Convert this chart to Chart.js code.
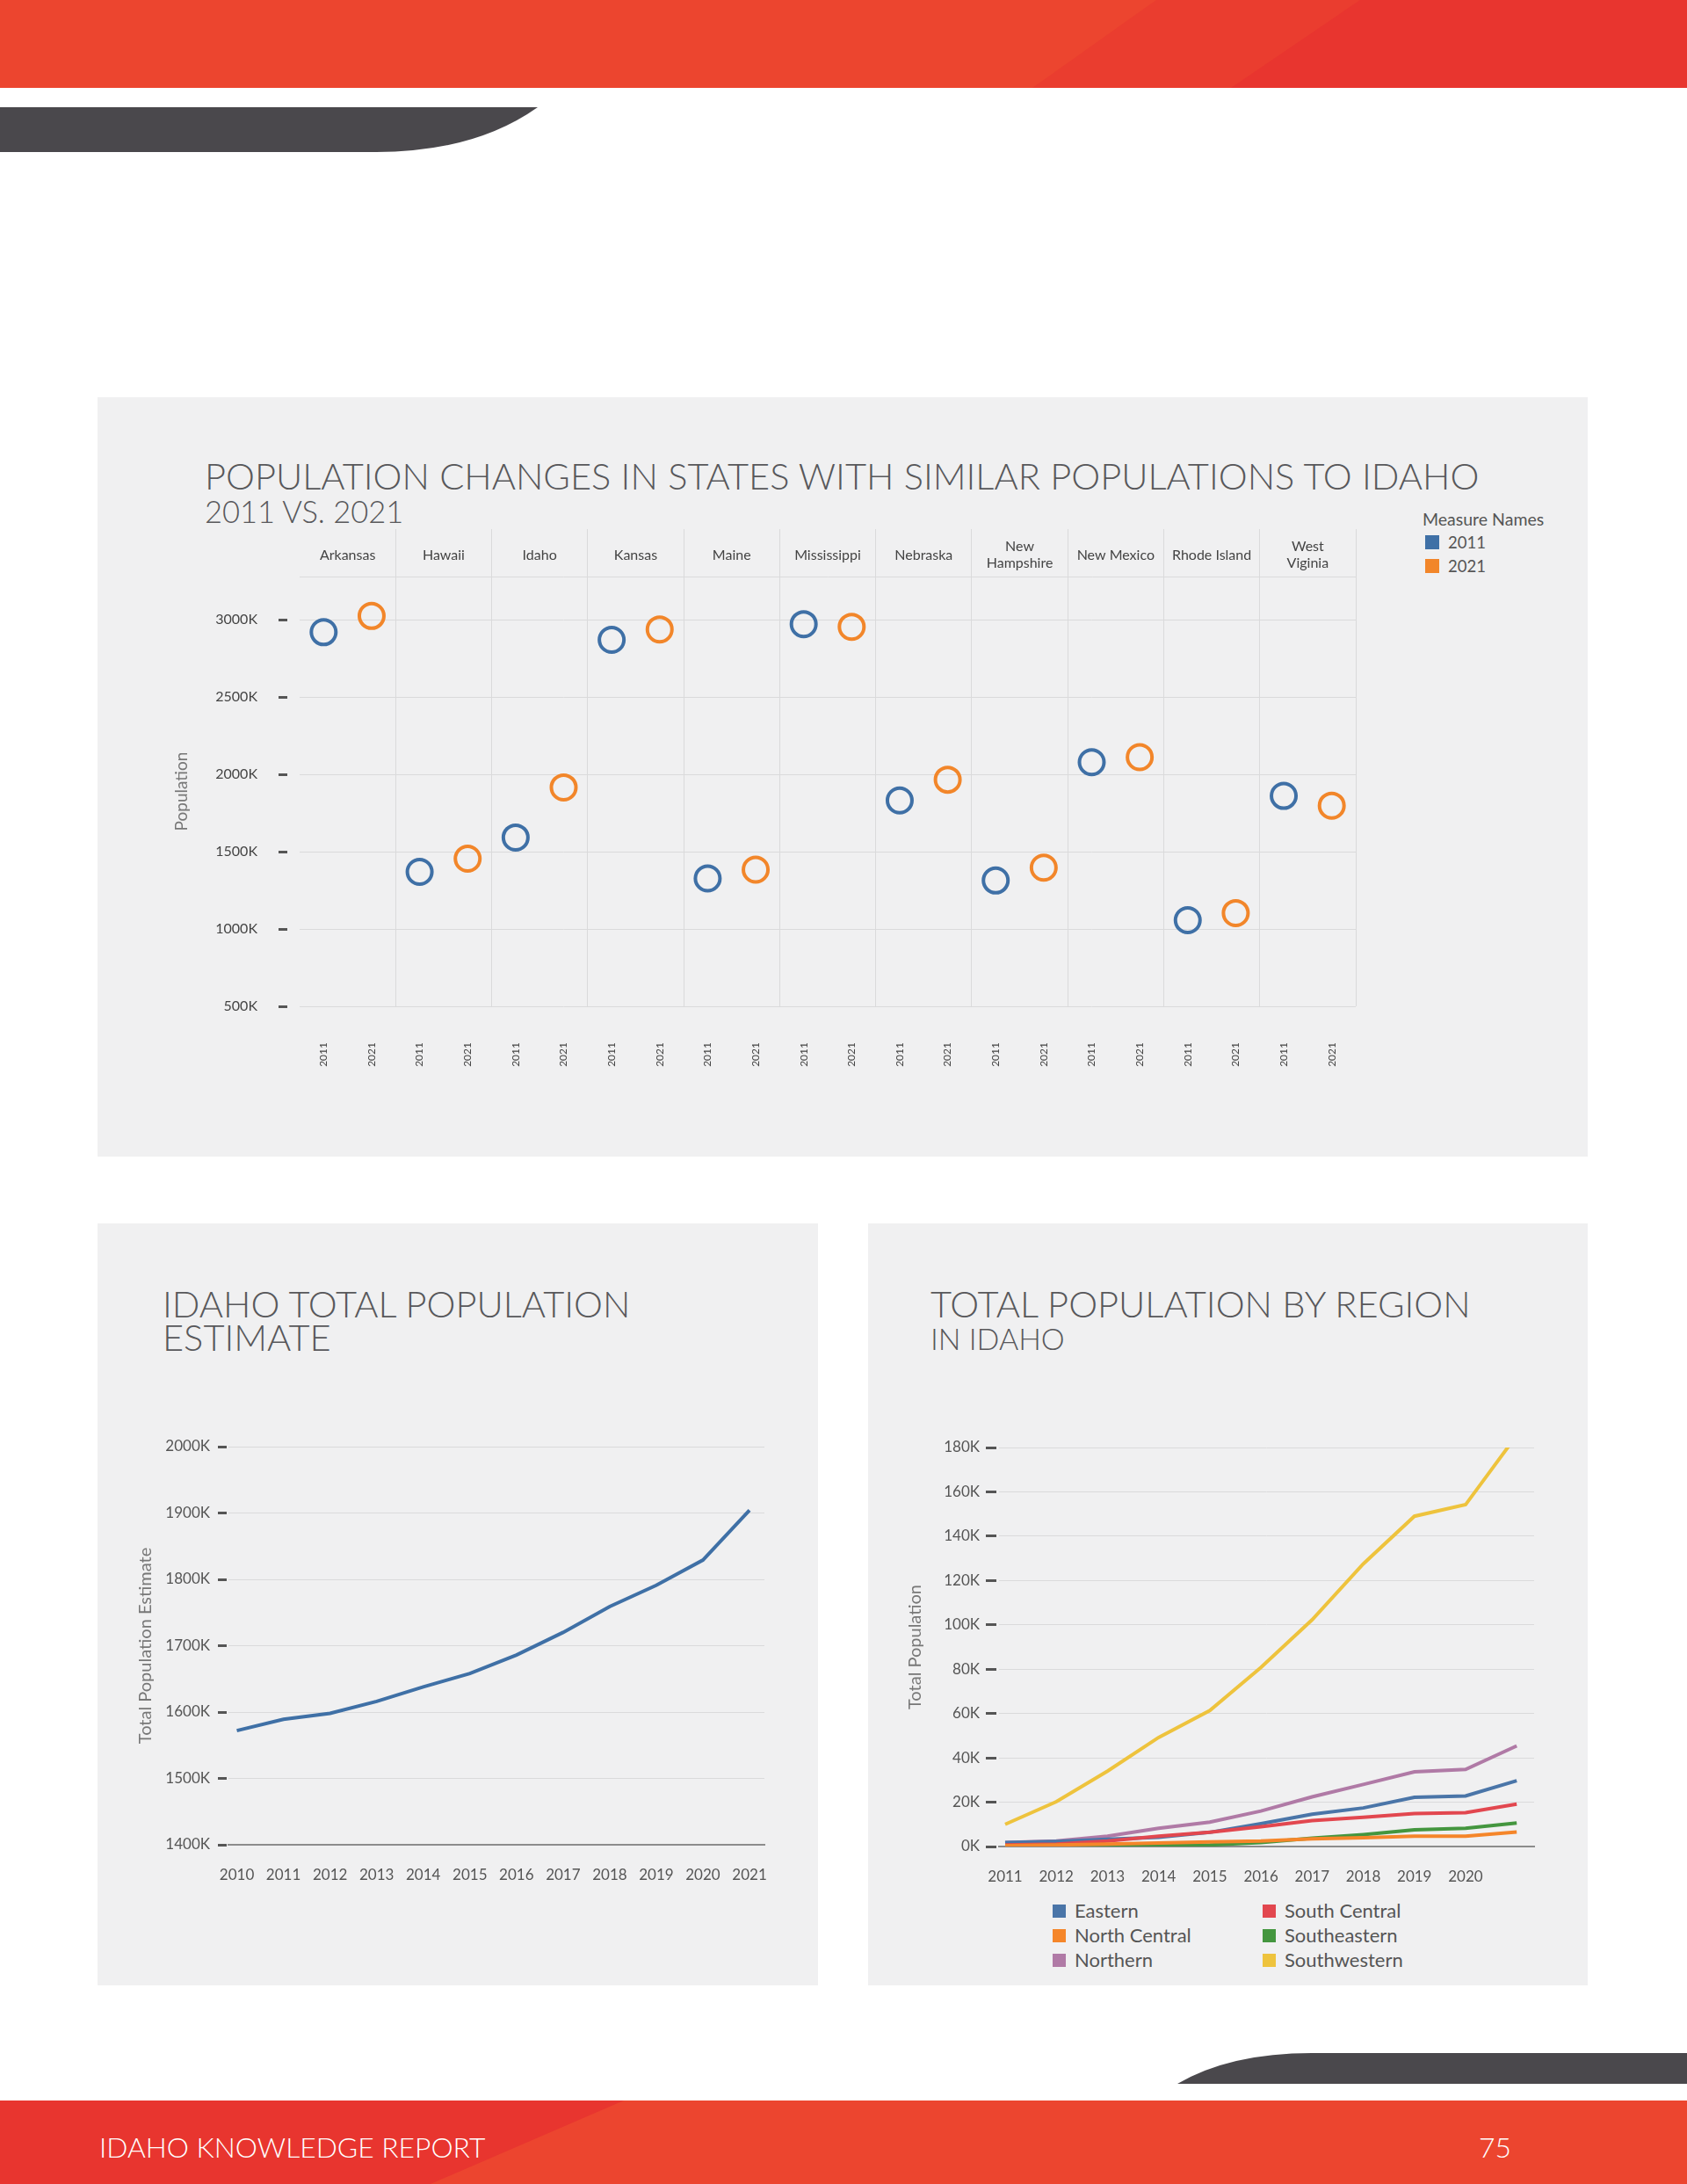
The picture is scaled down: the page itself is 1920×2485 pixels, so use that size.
<!DOCTYPE html>
<html>
<head>
<meta charset="utf-8">
<script src="https://cdn.jsdelivr.net/npm/chart.js@4.4.1/dist/chart.umd.min.js"></script>
<style>
body { margin: 0; width: 1920px; height: 2485px; position: relative; background: #fff; overflow: hidden; font-family: Lato, 'Open Sans', sans-serif; }
.panel { position: absolute; background: #f0f0f1; }
.title { position: absolute; color: #58585b; font-weight: 300; white-space: nowrap; line-height: 1; }
.box { position: absolute; }
.legend { position: absolute; color: #555; }
.legend .sw { position: absolute; width: 16px; height: 16px; }
.legend .lb { position: absolute; white-space: nowrap; line-height: 1; }
</style>
</head>
<body>

<svg style="position:absolute;left:0;top:0" width="1920" height="2485">
  <rect x="0" y="0" width="1920" height="100" fill="#ec452f"/>
  <polygon points="1316,0 1920,0 1920,100 1175,100" fill="#ea3d2f"/>
  <polygon points="1548,0 1920,0 1920,100 1401,100" fill="#e8352f"/>
  <path d="M0 122 H612 Q540 173 428 173 H0 Z" fill="#4a484c"/>
  <path d="M1340 2371 Q1400 2336 1493 2336 H1920 V2371 Z" fill="#4a484c"/>
  <rect x="0" y="2390" width="1920" height="95" fill="#ec452f"/>
  <polygon points="0,2390 710,2390 490,2485 0,2485" fill="#e8352f"/>
</svg>

<div class="panel" style="left:111px;top:452px;width:1696px;height:864px"></div>
<div class="panel" style="left:111px;top:1392px;width:820px;height:867px"></div>
<div class="panel" style="left:988px;top:1392px;width:819px;height:867px"></div>

<div class="title" style="left:233px;top:521px;font-size:41.6px">POPULATION CHANGES IN STATES WITH SIMILAR POPULATIONS TO IDAHO</div>
<div class="title" style="left:233px;top:565px;font-size:34.5px">2011 VS. 2021</div>

<div class="title" style="left:185px;top:1464px;font-size:41.6px;line-height:38px">IDAHO TOTAL POPULATION<br>ESTIMATE</div>
<div class="title" style="left:1059px;top:1464px;font-size:41.6px;line-height:38px">TOTAL POPULATION BY REGION</div>
<div class="title" style="left:1059px;top:1506px;font-size:34px">IN IDAHO</div>

<div class="title" style="left:113px;top:2428px;font-size:31.8px;color:#fff">IDAHO KNOWLEDGE REPORT</div>
<div class="title" style="left:1683px;top:2428px;font-size:31.8px;color:#fff">75</div>

<div class="box" style="left:111px;top:602px;width:1460px;height:620px"><canvas id="states"></canvas></div>
<div class="box" style="left:111px;top:1620px;width:820px;height:540px"><canvas id="idaho"></canvas></div>
<div class="box" style="left:988px;top:1620px;width:819px;height:540px"><canvas id="region"></canvas></div>

<div class="legend" id="legendStates" style="left:1619px;top:581px"></div>
<div class="legend" id="legendRegion" style="left:1198px;top:2160px"></div>

<script>
// states with a population close to Idaho's, in thousands
const states = ['Arkansas', 'Hawaii', 'Idaho', 'Kansas', 'Maine', 'Mississippi', 'Nebraska',
  ['New', 'Hampshire'], 'New Mexico', 'Rhode Island', ['West', 'Viginia']];
const years = ['2011', '2021'];
const pop2011 = [2920, 1370, 1592, 2871, 1327, 2972, 1832, 1314, 2079, 1057, 1861];
const pop2021 = [3025, 1455, 1916, 2938, 1384, 2955, 1966, 1397, 2112, 1103, 1798];
const stateTicks = [500, 1000, 1500, 2000, 2500, 3000];

// Idaho total population estimate, thousands
const idahoYears = [2010, 2011, 2012, 2013, 2014, 2015, 2016, 2017, 2018, 2019, 2020, 2021];
const idahoTotal = [1572, 1589, 1598, 1616, 1638, 1658, 1686, 1720, 1759, 1791, 1829, 1904];

// population by region, thousands
const regionYears = [2011, 2012, 2013, 2014, 2015, 2016, 2017, 2018, 2019, 2020, 2021];
const eastern      = [1.8, 2.3, 3.3, 4.2, 6.4, 10.3, 14.6, 17.4, 22.2, 22.8, 29.7];
const northCentral = [0.4, 0.7, 1.1, 1.6, 2.1, 2.5, 3.5, 4.0, 4.7, 4.7, 6.5];
const northern     = [1.8, 2.5, 4.7, 8.2, 11.0, 16.0, 22.4, 28.0, 33.7, 34.8, 45.4];
const southCentral = [0.7, 1.1, 2.5, 4.7, 6.4, 8.9, 11.7, 13.2, 14.9, 15.3, 19.1];
const southeastern = [0.0, 0.1, 0.2, 0.3, 0.7, 1.8, 3.8, 5.4, 7.5, 8.2, 10.6];
const southwestern = [10.0, 20.2, 34.0, 49.2, 61.3, 80.8, 102.3, 127.5, 149.0, 154.2, 185.5];

const blue = '#3f70a6', orange = '#f2862a';
const gridCol = '#dadadb';

Chart.defaults.font.family = "Lato, 'Open Sans', sans-serif";
Chart.defaults.color = '#555';
Chart.defaults.animation = false;

// ---------- top chart ----------
let xLabels = states.flatMap(() => years);
let d2011 = pop2011.flatMap(v => [v, null]);
let d2021 = pop2021.flatMap(v => [null, v]);

new Chart(document.getElementById('states'), {
  type: 'line',
  data: {
    labels: xLabels,
    datasets: [
      { label: '2011', data: d2011, showLine: false, pointRadius: 14, pointBorderWidth: 4,
        pointBorderColor: blue, pointBackgroundColor: 'transparent' },
      { label: '2021', data: d2021, showLine: false, pointRadius: 14, pointBorderWidth: 4,
        pointBorderColor: orange, pointBackgroundColor: 'transparent' }
    ]
  },
  options: {
    responsive: true,
    maintainAspectRatio: false,
    layout: { padding: { right: 28 } },
    plugins: { legend: { display: false }, tooltip: { enabled: false } },
    scales: {
      x: {
        offset: true,
        grid: { display: false },
        border: { display: false },
        ticks: { autoSkip: false, minRotation: 90, maxRotation: 90, padding: 33,
          font: { size: 12 }, color: '#444' },
        afterFit: s => { s.height = 77; }
      },
      x2: {
        type: 'category',
        position: 'top',
        labels: states,
        offset: true,
        grid: {
          offset: true,
          tickLength: 54,
          color: c => c.index === 0 ? 'transparent' : gridCol,
          tickColor: c => c.index === 0 ? 'transparent' : gridCol
        },
        border: { display: true, color: gridCol },
        ticks: { autoSkip: false, maxRotation: 0, crossAlign: 'center', padding: -39,
          font: { size: 16 }, color: '#444' },
        afterFit: s => { s.height = 54; }
      },
      y: {
        min: 500,
        max: 3280,
        afterBuildTicks: s => { s.ticks = stateTicks.map(v => ({ value: v })); },
        grid: { color: gridCol, tickLength: 24, tickColor: '#555', tickWidth: 3, tickBorderDash: [10, 14] },
        border: { display: false },
        ticks: { padding: 24, font: { size: 16 }, color: '#444', callback: v => v + 'K' },
        title: { display: true, text: 'Population', font: { size: 19 }, color: '#777',
          padding: { top: 84, bottom: 0 } },
        afterFit: s => { s.width = 230; }
      }
    }
  }
});

// ---------- Idaho total ----------
new Chart(document.getElementById('idaho'), {
  type: 'line',
  data: {
    datasets: [{
      label: 'Total Population Estimate',
      data: idahoYears.map((y, i) => ({ x: y, y: idahoTotal[i] })),
      borderColor: blue, borderWidth: 4, pointRadius: 0, tension: 0
    }]
  },
  options: {
    responsive: true,
    maintainAspectRatio: false,
    layout: { padding: { top: 26, right: 61 } },
    plugins: { legend: { display: false }, tooltip: { enabled: false } },
    scales: {
      x: {
        type: 'linear', min: 2009.82, max: 2021.32,
        afterBuildTicks: s => { s.ticks = idahoYears.map(v => ({ value: v })); },
        grid: { display: false, drawTicks: false },
        border: { color: '#8c8c8c', width: 2 },
        ticks: { padding: 24, font: { size: 17 }, color: '#555', callback: v => String(v) },
        afterFit: s => { s.height = 61; }
      },
      y: {
        min: 1400, max: 2000,
        ticks: { stepSize: 100, padding: 9, font: { size: 17 }, color: '#555', callback: v => v + 'K' },
        grid: { color: gridCol, tickLength: 12, tickColor: '#555', tickWidth: 3, tickBorderDash: [10, 2] },
        border: { display: false },
        title: { display: true, text: 'Total Population Estimate', font: { size: 20 }, color: '#777',
          padding: { top: 43, bottom: 0 } },
        afterFit: s => { s.width = 149; }
      }
    }
  }
});

// ---------- by region ----------
const regions = [
  { name: 'Eastern', data: eastern, color: '#4a75a8' },
  { name: 'North Central', data: northCentral, color: '#f5862a' },
  { name: 'Northern', data: northern, color: '#b07aa6' },
  { name: 'South Central', data: southCentral, color: '#e2474f' },
  { name: 'Southeastern', data: southeastern, color: '#44963f' },
  { name: 'Southwestern', data: southwestern, color: '#eec33d' }
];
const drawOrder = { 'North Central': 0, 'Southeastern': 1, 'South Central': 2, 'Eastern': 3, 'Northern': 4, 'Southwestern': 5 };

new Chart(document.getElementById('region'), {
  type: 'line',
  data: {
    datasets: regions.map(r => ({
      label: r.name,
      data: regionYears.map((y, i) => ({ x: y, y: r.data[i] })),
      borderColor: r.color, borderWidth: 4, pointRadius: 0, tension: 0,
      order: drawOrder[r.name]
    }))
  },
  options: {
    responsive: true,
    maintainAspectRatio: false,
    layout: { padding: { top: 27, right: 61 } },
    plugins: { legend: { display: false }, tooltip: { enabled: false } },
    scales: {
      x: {
        type: 'linear', min: 2010.88, max: 2021.34,
        afterBuildTicks: s => { s.ticks = regionYears.map(v => ({ value: v })); },
        grid: { display: false, drawTicks: false },
        border: { color: '#8c8c8c', width: 2 },
        ticks: { padding: 24, font: { size: 17 }, color: '#555',
          callback: v => v === 2021 ? '' : String(v) },
        afterFit: s => { s.height = 59; }
      },
      y: {
        min: 0, max: 180,
        ticks: { stepSize: 20, padding: 7, font: { size: 17 }, color: '#555', callback: v => v + 'K' },
        grid: { color: gridCol, tickLength: 15, tickColor: '#555', tickWidth: 3, tickBorderDash: [12, 3] },
        border: { display: false },
        title: { display: true, text: 'Total Population', font: { size: 20 }, color: '#777',
          padding: { top: 42, bottom: 0 } },
        afterFit: s => { s.width = 149; }
      }
    }
  }
});

// ---------- html legends ----------
function addItem(el, color, text, x, y, size, sw) {
  let s = document.createElement('div');
  s.className = 'sw';
  s.style.cssText = `left:${x}px;top:${y - sw / 2}px;width:${sw}px;height:${sw}px;background:${color}`;
  el.appendChild(s);
  let l = document.createElement('div');
  l.className = 'lb';
  l.textContent = text;
  l.style.cssText = `left:${x + sw + 10}px;top:${y - size / 2}px;font-size:${size}px`;
  el.appendChild(l);
}

let lgS = document.getElementById('legendStates');
let t = document.createElement('div');
t.className = 'lb';
t.textContent = 'Measure Names';
t.style.cssText = 'left:0;top:0;font-size:19.5px';
lgS.appendChild(t);
addItem(lgS, blue, years[0], 3, 36, 18.5, 16);
addItem(lgS, orange, years[1], 3, 63, 18.5, 16);

let lgR = document.getElementById('legendRegion');
regions.forEach(r => {
  let col = ['Eastern', 'North Central', 'Northern'].includes(r.name) ? 0 : 1;
  let row = col === 0 ? ['Eastern', 'North Central', 'Northern'].indexOf(r.name)
                      : ['South Central', 'Southeastern', 'Southwestern'].indexOf(r.name);
  addItem(lgR, r.color, r.name, col * 239, 14 + row * 28, 22, 15);
});
</script>
</body>
</html>
